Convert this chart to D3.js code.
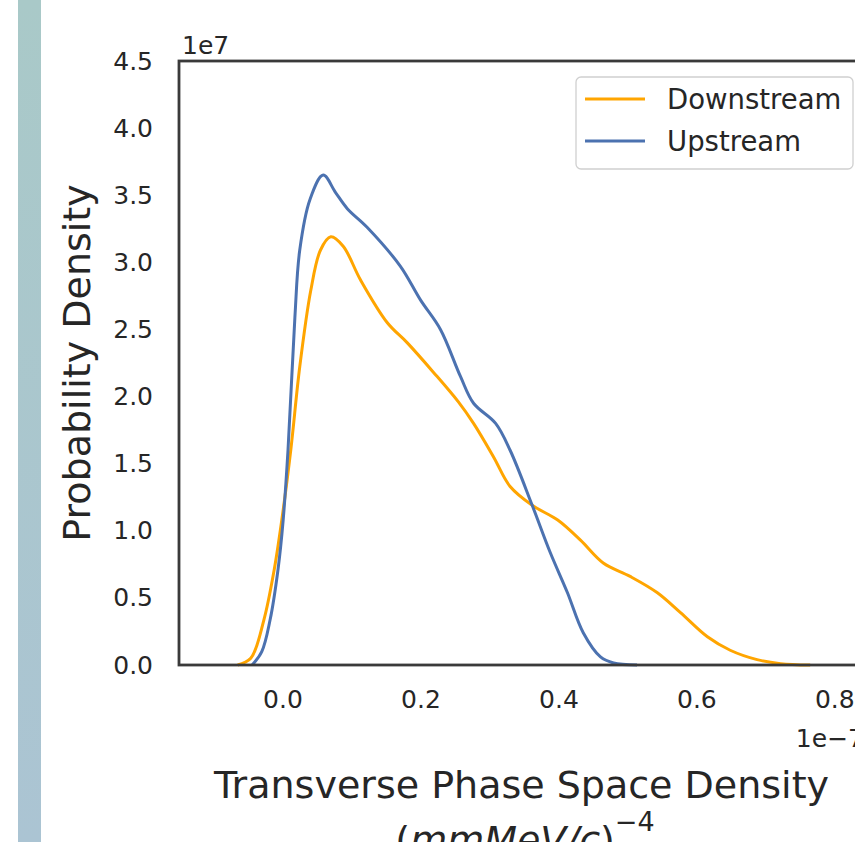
<!DOCTYPE html>
<html>
<head>
<meta charset="utf-8">
<script src="https://cdn.jsdelivr.net/npm/d3@7"></script>
<style>
  body { margin: 0; background: #ffffff; }
  svg { display: block; font-family: "DejaVu Sans", sans-serif; }
</style>
</head>
<body>
<svg id="chart" width="855" height="842"></svg>
<script>
// KDE curves (x in units of 1e-7, density in units of 1e7)
const downstreamX = [-0.065, -0.046, -0.027, -0.012, -0.001, 0.012, 0.025, 0.041, 0.055, 0.070, 0.088, 0.113, 0.152, 0.181, 0.219, 0.255, 0.277, 0.306, 0.330, 0.362, 0.399, 0.432, 0.465, 0.504, 0.543, 0.577, 0.616, 0.649, 0.688, 0.722, 0.765];
const downstreamY = [0.0, 0.05, 0.335, 0.71, 1.08, 1.60, 2.22, 2.79, 3.09, 3.19, 3.12, 2.87, 2.55, 2.40, 2.18, 1.96, 1.80, 1.55, 1.33, 1.19, 1.08, 0.93, 0.76, 0.66, 0.54, 0.39, 0.21, 0.11, 0.04, 0.01, 0.0];

const upstreamX = [-0.044, -0.030, -0.018, -0.0065, 0.001, 0.008, 0.018, 0.025, 0.040, 0.059, 0.077, 0.094, 0.123, 0.171, 0.200, 0.229, 0.258, 0.277, 0.309, 0.330, 0.362, 0.388, 0.413, 0.436, 0.461, 0.480, 0.514];
const upstreamY = [0.0, 0.10, 0.335, 0.71, 1.08, 1.60, 2.59, 3.09, 3.47, 3.65, 3.52, 3.40, 3.26, 2.97, 2.72, 2.50, 2.15, 1.95, 1.80, 1.60, 1.19, 0.84, 0.54, 0.24, 0.06, 0.015, 0.0];

const xTicks = [0.0, 0.2, 0.4, 0.6, 0.8];
const yTicks = [0.0, 0.5, 1.0, 1.5, 2.0, 2.5, 3.0, 3.5, 4.0, 4.5];

const seriesNames = ["Downstream", "Upstream"];
const seriesColors = ["#ffa500", "#4c72b0"];

const svg = d3.select("#chart");

// left decoration bar
const grad = svg.append("defs").append("linearGradient")
    .attr("id", "barGrad")
    .attr("x1", 0).attr("y1", 0).attr("x2", 0).attr("y2", 1);
grad.append("stop").attr("offset", "0%").attr("stop-color", "#a9c9c8");
grad.append("stop").attr("offset", "100%").attr("stop-color", "#abc4d3");
svg.append("rect")
    .attr("x", 18).attr("y", 0)
    .attr("width", 23).attr("height", 842)
    .attr("fill", "url(#barGrad)");

const plotLeft = 179, plotRight = 864, plotTop = 61, plotBottom = 665;

const x = d3.scaleLinear().domain([-0.15, 0.843]).range([plotLeft, plotRight]);
const y = d3.scaleLinear().domain([0, 4.5]).range([plotBottom, plotTop]);

const textColor = "#262626";

// axes
const yAxis = svg.append("g")
    .attr("transform", `translate(${plotLeft},0)`)
    .call(d3.axisLeft(y).tickValues(yTicks).tickFormat(d3.format(".1f")).tickSize(0).tickPadding(26));
const xAxis = svg.append("g")
    .attr("transform", `translate(0,${plotBottom})`)
    .call(d3.axisBottom(x).tickValues(xTicks).tickFormat(d3.format(".1f")).tickSize(0).tickPadding(25));

for (const ax of [xAxis, yAxis]) {
    ax.select(".domain").remove();
    ax.selectAll("text")
        .attr("font-size", 25)
        .attr("font-family", "DejaVu Sans")
        .attr("fill", textColor);
}

// curves
const line = d3.line()
    .x(d => x(d[0]))
    .y(d => y(d[1]))
    .curve(d3.curveCatmullRom.alpha(0.5));

const series = [
    d3.zip(downstreamX, downstreamY),
    d3.zip(upstreamX, upstreamY)
];

svg.append("g")
    .selectAll("path")
    .data(series)
    .join("path")
        .attr("d", line)
        .attr("fill", "none")
        .attr("stroke", (d, i) => seriesColors[i])
        .attr("stroke-width", 3)
        .attr("stroke-linejoin", "round");

// spines
svg.append("rect")
    .attr("x", plotLeft).attr("y", plotTop)
    .attr("width", plotRight - plotLeft).attr("height", plotBottom - plotTop)
    .attr("fill", "none")
    .attr("stroke", "#3a3a3a")
    .attr("stroke-width", 2.8);

// offset texts
svg.append("text")
    .attr("x", plotLeft + 3).attr("y", 54)
    .attr("font-size", 25)
    .attr("fill", textColor)
    .text("1e7");
svg.append("text")
    .attr("x", plotRight).attr("y", 747)
    .attr("text-anchor", "end")
    .attr("font-size", 25)
    .attr("fill", textColor)
    .text("1e\u22127");

// axis labels
svg.append("text")
    .attr("transform", `translate(90,${(plotTop + plotBottom) / 2}) rotate(-90)`)
    .attr("text-anchor", "middle")
    .attr("font-size", 38)
    .attr("fill", textColor)
    .text("Probability Density");

svg.append("text")
    .attr("x", (plotLeft + plotRight) / 2).attr("y", 798)
    .attr("text-anchor", "middle")
    .attr("font-size", 38)
    .attr("fill", textColor)
    .text("Transverse Phase Space Density");

const unit = svg.append("text")
    .attr("x", 525).attr("y", 853)
    .attr("text-anchor", "middle")
    .attr("font-size", 38)
    .attr("fill", textColor);
unit.append("tspan").text("(");
unit.append("tspan").attr("font-style", "italic").text("mmMeV/c");
unit.append("tspan").text(")");
unit.append("tspan").attr("font-size", 27).attr("dy", -22).text("\u22124");

// legend
const legend = svg.append("g");
legend.append("rect")
    .attr("x", 576).attr("y", 77)
    .attr("width", 277).attr("height", 92)
    .attr("rx", 5)
    .attr("fill", "#ffffff")
    .attr("stroke", "#d0d0d0")
    .attr("stroke-width", 1.3);

const items = legend.selectAll("g.item")
    .data(seriesNames)
    .join("g")
        .attr("class", "item")
        .attr("transform", (d, i) => `translate(0,${99 + i * 42})`);
items.append("line")
    .attr("x1", 585).attr("x2", 645)
    .attr("stroke", (d, i) => seriesColors[i])
    .attr("stroke-width", 3);
items.append("text")
    .attr("x", 667).attr("dy", "0.35em")
    .attr("font-size", 27.5)
    .attr("fill", textColor)
    .text(d => d);
</script>
</body>
</html>
